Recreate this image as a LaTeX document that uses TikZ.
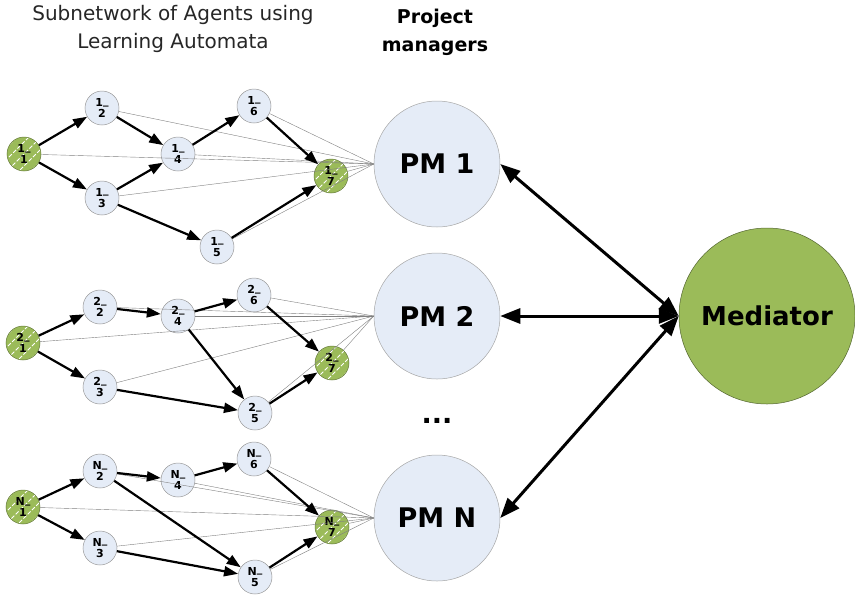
\documentclass[tikz,border=0pt]{standalone}
\usepackage{fontspec}
\setmainfont{DejaVu Sans}
\usetikzlibrary{arrows.meta}
\definecolor{agreen}{RGB}{155,187,89}
\definecolor{ablue}{RGB}{229,236,247}
\newcommand{\us}{\raisebox{2.2pt}{\_}}
\begin{document}
\begin{tikzpicture}[x=1pt,y=-1pt,
  agent/.style={circle, draw=gray!80, line width=0.5pt, fill=ablue, minimum size=34pt, inner sep=0pt, align=center, font=\fontsize{11}{11.5}\selectfont\bfseries},
  startend/.style={agent, fill=agreen, draw=agreen!65!black,
    path picture={\foreach \k in {-24,-12,0,12,24}
      \draw[white, line width=0.8pt, dash pattern=on 4pt off 2pt]
        ([shift={(\k-20,20)}]path picture bounding box.center) -- ++(40,-40);}},
  pm/.style={circle, draw=gray!70, line width=0.5pt, fill=ablue, minimum size=126pt, inner sep=0pt, font=\fontsize{27}{30}\selectfont\bfseries},
  med/.style={circle, draw=agreen!55!black, line width=0.5pt, fill=agreen, minimum size=176pt, inner sep=0pt, font=\fontsize{26}{30}\selectfont\bfseries},
  arr/.style={-{Triangle[length=14pt,width=10pt]}, line width=2.2pt},
  thinl/.style={black!50, line width=0.4pt},
  big/.style={{Triangle[length=20pt,width=15pt]}-{Triangle[length=20pt,width=15pt]}, line width=3pt}
]
\useasboundingbox (0,0) rectangle (855,598);

% titles
\node[align=center, font=\fontsize{20}{28}\selectfont, text=black!85] (title) at (173,29) {Subnetwork of Agents using\\Learning Automata};
\node[align=center, font=\fontsize{19}{28}\selectfont\bfseries] (pmtitle) at (435,32) {Project\\managers};

% project managers and mediator
\node[pm] (pm1) at (437,164) {PM 1};
\node[pm] (pm2) at (437,316) {PM 2};
\node[pm] (pmn) at (437,518) {PM N};
\node[med] (med) at (767,316) {Mediator};
\node[anchor=base, font=\fontsize{27}{30}\selectfont\bfseries] (dots) at (437,423) {...};

% group 1
\node[startend] (a1) at (24,154) {1\us\\1};
\node[agent] (a2) at (102,108) {1\us\\2};
\node[agent] (a3) at (102,198) {1\us\\3};
\node[agent] (a4) at (178,154) {1\us\\4};
\node[agent] (a5) at (217,247) {1\us\\5};
\node[agent] (a6) at (254,106) {1\us\\6};
\node[startend] (a7) at (331,176) {1\us\\7};

% group 2
\node[startend] (b1) at (23,343) {2\us\\1};
\node[agent] (b2) at (100,307) {2\us\\2};
\node[agent] (b3) at (100,387) {2\us\\3};
\node[agent] (b4) at (178,316) {2\us\\4};
\node[agent] (b5) at (255,413) {2\us\\5};
\node[agent] (b6) at (254,295) {2\us\\6};
\node[startend] (b7) at (332,363) {2\us\\7};

% group 3
\node[startend] (c1) at (23,507) {N\us\\1};
\node[agent] (c2) at (100,471) {N\us\\2};
\node[agent] (c3) at (100,548) {N\us\\3};
\node[agent] (c4) at (178,480) {N\us\\4};
\node[agent] (c5) at (255,577) {N\us\\5};
\node[agent] (c6) at (254,459) {N\us\\6};
\node[startend] (c7) at (332,527) {N\us\\7};

% thin links to project managers
\foreach \n in {1,...,7} {
  \draw[thinl] (a\n) -- (pm1.west);
  \draw[thinl] (b\n) -- (pm2.west);
  \draw[thinl] (c\n) -- (pmn.west);
}

% precedence arrows
\draw[arr] (a1) -- (a2);
\draw[arr] (a1) -- (a3);
\draw[arr] (a2) -- (a4);
\draw[arr] (a3) -- (a4);
\draw[arr] (a4) -- (a6);
\draw[arr] (a3) -- (a5);
\draw[arr] (a6) -- (a7);
\draw[arr] (a5) -- (a7);

\draw[arr] (b1) -- (b2);
\draw[arr] (b1) -- (b3);
\draw[arr] (b2) -- (b4);
\draw[arr] (b4) -- (b6);
\draw[arr] (b4) -- (b5);
\draw[arr] (b3) -- (b5);
\draw[arr] (b6) -- (b7);
\draw[arr] (b5) -- (b7);

\draw[arr] (c1) -- (c2);
\draw[arr] (c1) -- (c3);
\draw[arr] (c2) -- (c4);
\draw[arr] (c2) -- (c5);
\draw[arr] (c4) -- (c6);
\draw[arr] (c3) -- (c5);
\draw[arr] (c6) -- (c7);
\draw[arr] (c5) -- (c7);

% PM <-> mediator
\draw[big] (pm1.east) -- (med.west);
\draw[big] (pm2.east) -- (med.west);
\draw[big] (pmn.east) -- (med.west);
\end{tikzpicture}
\end{document}
